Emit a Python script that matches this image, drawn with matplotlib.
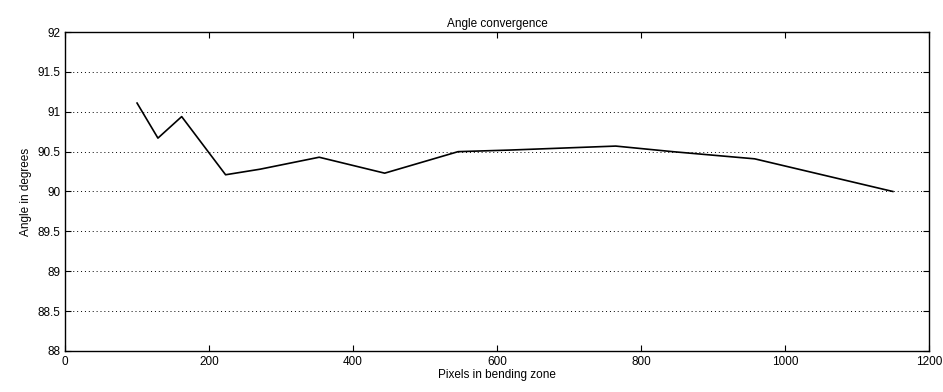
import matplotlib
matplotlib.use("Agg")
import matplotlib.pyplot as plt

# pixels in bending zone vs measured angle
pixels = [100, 129, 162, 223, 271, 353, 444, 546, 618, 706, 765, 844, 958, 1150]
angle = [91.11, 90.67, 90.94, 90.21, 90.28, 90.43, 90.23, 90.50, 90.52, 90.55, 90.57, 90.50, 90.41, 90.00]

xticks = [0, 200, 400, 600, 800, 1000, 1200]
yticks = [88, 88.5, 89, 89.5, 90, 90.5, 91, 91.5, 92]
yticklabels = ["88", "88.5", "89", "89.5", "90", "90.5", "91", "91.5", "92"]

plt.rcParams['font.family'] = ['Liberation Sans', 'DejaVu Sans']

fig = plt.figure(figsize=(9.43, 3.92), dpi=100)
ax = fig.add_axes([0.069, 0.105, 0.916, 0.813])
ax.plot(pixels, angle, color='black', linewidth=1.2)

ax.set_xlim(0, 1200)
ax.set_ylim(88, 92)
ax.set_xticks(xticks)
ax.set_yticks(yticks)
ax.set_yticklabels(yticklabels)
ax.tick_params(direction='in', labelsize=8.5, length=4, width=0.8, top=True, right=True)
ax.grid(True, color='black', linestyle=(0, (1, 3)), linewidth=0.7)
ax.xaxis.grid(False)
for s in ax.spines.values():
    s.set_linewidth(1.0)

ax.set_title("Angle convergence", fontsize=8.5, pad=4)
ax.set_xlabel("Pixels in bending zone", fontsize=8.5, labelpad=1)
ax.set_ylabel("Angle in degrees", fontsize=8.5, labelpad=4)

fig.savefig("out.png", dpi=100)
